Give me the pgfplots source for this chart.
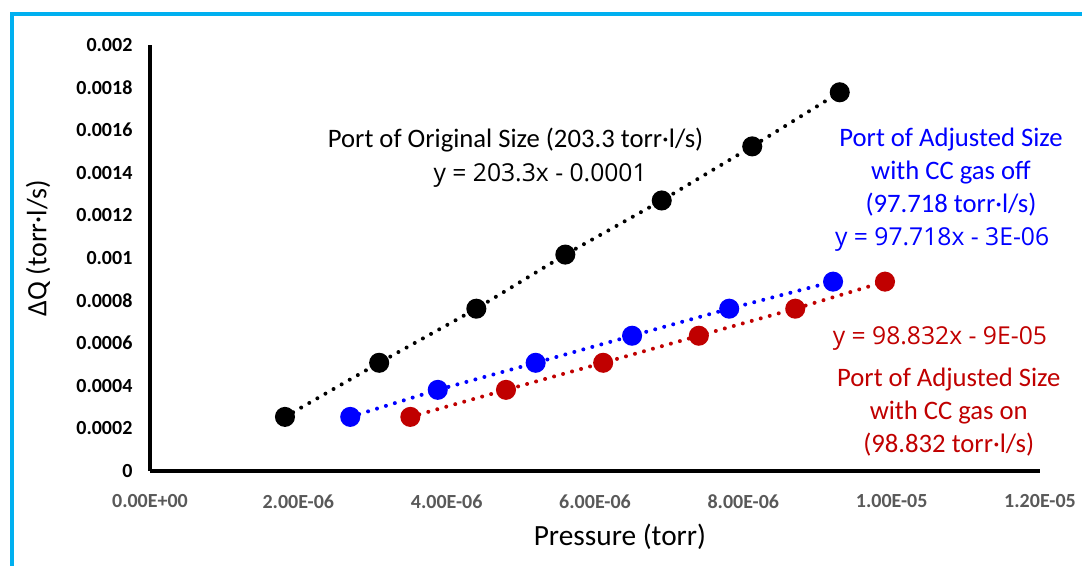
\documentclass[border=0pt]{standalone}
\usepackage{fontspec}
\setmainfont{Carlito}
\newfontfamily\eqfont{Open Sans}
\usepackage{pgfplots}
\pgfplotsset{compat=1.18}
\definecolor{framecyan}{RGB}{0,176,240}
\definecolor{ptblue}{RGB}{0,0,255}
\definecolor{ptred}{RGB}{192,0,0}
\definecolor{tickgray}{RGB}{89,89,89}

\pgfplotstableread{
x        y
1.82e-6  0.000254
3.09e-6  0.000508
4.40e-6  0.000762
5.60e-6  0.001016
6.90e-6  0.00127
8.12e-6  0.001524
9.30e-6  0.001778
}\original
\pgfplotstableread{
x        y
2.70e-6  0.000254
3.88e-6  0.000381
5.20e-6  0.000508
6.50e-6  0.000635
7.81e-6  0.000762
9.21e-6  0.000889
}\gasoff
\pgfplotstableread{
x        y
3.51e-6  0.000254
4.80e-6  0.000381
6.11e-6  0.000508
7.40e-6  0.000635
8.70e-6  0.000762
9.91e-6  0.000889
}\gason

\begin{document}
\begin{tikzpicture}
% page frame (1px = 0.75pt, axis origin at px (150,471))
\path[use as bounding box] (-112.5pt,-71.25pt) rectangle (699pt,353.25pt);
\draw[framecyan, line width=2.5pt] (-103.5pt,-71.25pt) -- (-103.5pt,342.75pt) -- (699pt,342.75pt);
\begin{axis}[
  width=667.5pt, height=319.5pt, scale only axis,
  xmin=0, xmax=1.2e-5, ymin=0, ymax=0.002,
  scaled ticks=false,
  axis lines=left,
  axis line style={-, line width=3pt, black},
  major tick length=0pt,
  xtick={0,2e-6,4e-6,6e-6,8e-6,1e-5,1.2e-5},
  xticklabels={0.00E+00,2.00E-06,4.00E-06,6.00E-06,8.00E-06,1.00E-05,1.20E-05},
  ytick={0,0.0002,0.0004,0.0006,0.0008,0.001,0.0012,0.0014,0.0016,0.0018,0.002},
  yticklabels={0,0.0002,0.0004,0.0006,0.0008,0.001,0.0012,0.0014,0.0016,0.0018,0.002},
  xticklabel style={font=\fontsize{15}{18}\selectfont\bfseries, text=tickgray,
                    inner sep=0pt, anchor=north, yshift=-17.5pt},
  yticklabel style={font=\fontsize{15}{18}\selectfont\bfseries, text=black,
                    inner sep=0pt, anchor=east, xshift=-13pt},
  xlabel={Pressure (torr)},
  xlabel style={font=\fontsize{22}{25}\selectfont, at={(rel axis cs:0.528,0)},
                anchor=center, yshift=-49.5pt},
  ylabel={ΔQ (torr·l/s)},
  ylabel style={font=\fontsize{21}{24}\selectfont, at={(rel axis cs:0,0.523)},
                anchor=center, yshift=84pt},
  clip=false,
  every axis plot/.append style={line width=3pt, line cap=round,
        dash pattern=on 0pt off 7pt},
]
\addplot[black, mark=*, mark size=6pt, mark options={solid, fill=black}]
  table {\original};
\addplot[ptblue, mark=*, mark size=6pt, mark options={solid, fill=ptblue}]
  table {\gasoff};
\addplot[ptred, mark=*, mark size=6pt, mark options={solid, fill=ptred}]
  table {\gason};

\node[font=\fontsize{20}{24}\selectfont, black] at (axis cs:4.93e-6,0.001554)
  {Port of Original Size (203.3 torr·l/s)};
\node[font=\eqfont\fontsize{18.5}{22}\selectfont, black] at (axis cs:5.26e-6,0.001385)
  {y = 203.3x - 0.0001};

\node[font=\fontsize{20}{24.75}\selectfont, ptblue, align=center]
  at (axis cs:10.80e-6,0.001404)
  {Port of Adjusted Size\\with CC gas off\\(97.718 torr·l/s)};
\node[font=\eqfont\fontsize{18.5}{22}\selectfont, ptblue] at (axis cs:10.68e-6,0.001085)
  {y = 97.718x - 3E-06};

\node[font=\eqfont\fontsize{18.5}{22}\selectfont, ptred] at (axis cs:10.65e-6,0.00062)
  {y = 98.832x - 9E-05};
\node[font=\fontsize{20}{24.75}\selectfont, ptred, align=center]
  at (axis cs:10.77e-6,0.000277)
  {Port of Adjusted Size\\with CC gas on\\(98.832 torr·l/s)};
\end{axis}
\end{tikzpicture}
\end{document}
